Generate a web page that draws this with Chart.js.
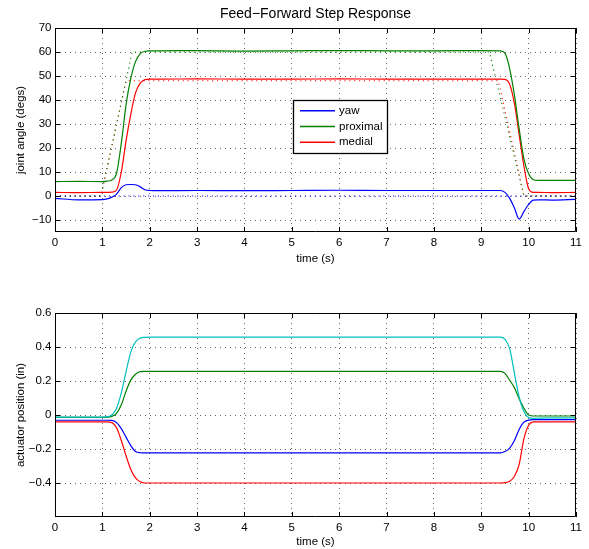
<!DOCTYPE html>
<html><head><meta charset="utf-8">
<script src="https://cdn.jsdelivr.net/npm/chart.js@4.4.0/dist/chart.umd.min.js"></script>
<style>
html,body{margin:0;padding:0;background:#fff;}
#wrap{position:relative;width:589px;height:549px;overflow:hidden;}
#c1{position:absolute;left:0;top:0;}
#c2{position:absolute;left:0;top:275px;}
</style></head><body>
<div id="wrap"><canvas id="c1" width="589" height="275"></canvas><canvas id="c2" width="589" height="274"></canvas></div>
<script>
// ---------- data: top chart (joint angle, degs) ----------
const timeTop = [0, 0.5, 1.0, 1.1, 1.2, 1.3, 1.4, 1.5, 1.6, 1.7, 1.8, 1.9, 2.0, 2.2, 3, 4, 5, 6, 7, 8, 9, 9.4, 9.5, 9.6, 9.7, 9.8, 9.9, 10.0, 10.1, 10.2, 10.5, 11];
const yawAngle = [-1.0, -1.6, -1.5, -1.2, -0.5, 0.8, 3.5, 4.7, 4.8, 4.7, 3.8, 2.6, 2.3, 2.2, 2.3, 2.2, 2.3, 2.4, 2.3, 2.3, 2.3, 2.3, 1.5, -1.0, -5.0, -9.6, -6.5, -3.5, -1.7, -1.6, -1.7, -1.4];
const proximalAngle = [6.0, 6.1, 6.0, 6.2, 6.7, 9.5, 22, 38, 49, 56, 59.3, 60.3, 60.5, 60.5, 60.6, 60.4, 60.5, 60.6, 60.5, 60.5, 60.6, 60.5, 59.5, 53, 42, 28, 15.5, 9.3, 6.8, 6.5, 6.5, 6.5];
const medialAngle = [1.5, 1.4, 1.5, 1.5, 1.6, 2.5, 10, 23, 34, 43, 47, 48.5, 48.7, 48.7, 48.8, 48.7, 48.7, 48.8, 48.7, 48.7, 48.7, 48.7, 48.6, 46.5, 38.5, 25.5, 12.5, 3.0, 1.5, 1.5, 1.4, 1.5];
// reference (commanded) trajectories, dotted
const yawRefTime = [0, 11];
const yawRef = [0, 0];
const proximalRefTime = [0, 0.97, 1.63, 9.17, 9.9, 11];
const proximalRef = [0, 0, 60, 60, 0, 0];
const medialRefTime = [0, 0.97, 1.5, 9.36, 9.9, 11];
const medialRef = [0, 0, 48, 48, 0, 0];
const seriesLabels = ['yaw', 'proximal', 'medial'];

// ---------- data: bottom chart (actuator position, in) ----------
const timeBottom = [0, 0.5, 1.0, 1.1, 1.2, 1.3, 1.4, 1.5, 1.6, 1.7, 1.8, 1.9, 2.0, 3, 5, 7, 9, 9.4, 9.5, 9.6, 9.7, 9.8, 9.9, 10.0, 10.1, 10.2, 10.5, 11];
const actCyan = [-0.012, -0.012, -0.012, -0.011, 0.0, 0.04, 0.13, 0.255, 0.37, 0.43, 0.452, 0.457, 0.458, 0.458, 0.458, 0.458, 0.458, 0.458, 0.445, 0.39, 0.245, 0.105, 0.02, -0.015, -0.02, -0.018, -0.017, -0.017];
const actGreen = [-0.014, -0.014, -0.014, -0.013, -0.008, 0.01, 0.06, 0.14, 0.205, 0.24, 0.255, 0.257, 0.257, 0.257, 0.257, 0.257, 0.257, 0.257, 0.245, 0.205, 0.16, 0.095, 0.04, 0.0, -0.006, -0.006, -0.006, -0.006];
const actBlue = [-0.031, -0.031, -0.031, -0.031, -0.032, -0.045, -0.08, -0.13, -0.18, -0.215, -0.222, -0.223, -0.223, -0.223, -0.223, -0.223, -0.223, -0.223, -0.215, -0.195, -0.15, -0.085, -0.042, -0.03, -0.027, -0.027, -0.027, -0.027];
const actRed = [-0.041, -0.041, -0.041, -0.041, -0.045, -0.075, -0.15, -0.24, -0.32, -0.37, -0.393, -0.4, -0.4, -0.4, -0.4, -0.4, -0.4, -0.4, -0.398, -0.39, -0.36, -0.29, -0.14, -0.06, -0.041, -0.04, -0.04, -0.04];

// ---------- tick labels ----------
const timeTicks = [0,1,2,3,4,5,6,7,8,9,10,11];
const angleTicks = [-10, 0, 10, 20, 30, 40, 50, 60, 70];
const positionTicks = [-0.4, -0.2, 0, 0.2, 0.4, 0.6];

const BLUE = '#0000ff', GREEN = '#008000', RED = '#ff0000', CYAN = '#00bfbf';
const FONT = '"Liberation Sans", Arial, Helvetica, sans-serif';

function pts(xs, ys){ return xs.map((x,i)=>({x:x, y:ys[i]})); }
function fmt(v){ const r = Math.round(v*10)/10; if (r === 0) return '0'; return r < 0 ? '\u2212' + String(Math.abs(r)) : String(r); }

function solid(label, xs, ys, color, legend){
  return {label, data: pts(xs, ys), borderColor: color, backgroundColor: color, borderWidth: 1.2,
    pointRadius: 0, cubicInterpolationMode: 'monotone', fill: false, inLegend: !!legend, legendColor: color};
}
function dotted(label, xs, ys, color){
  return {label, data: pts(xs, ys), borderColor: color, backgroundColor: color, borderWidth: 1.1,
    borderDash: [1.1, 3.8], pointRadius: 0, tension: 0, fill: false, inLegend: false};
}

const framePlugin = {
  id: 'frame',
  afterDraw(chart, args, opts){
    const {ctx, chartArea: a} = chart;
    const xs = chart.scales.x, ys = chart.scales.y;
    ctx.save();
    ctx.setLineDash([]);
    ctx.strokeStyle = '#000'; ctx.lineWidth = 1;
    ctx.beginPath();
    ctx.rect(Math.round(a.left)+0.5, Math.round(a.top)+0.5, Math.round(a.right)-Math.round(a.left)-1, Math.round(a.bottom)-Math.round(a.top)-1);
    ctx.stroke();
    const L = 5;
    ctx.beginPath();
    opts.xTicks.forEach(v => {
      const p = Math.round(xs.getPixelForValue(v)) + 0.5;
      ctx.moveTo(p, a.bottom); ctx.lineTo(p, a.bottom - L);
      ctx.moveTo(p, a.top); ctx.lineTo(p, a.top + L);
    });
    opts.yTicks.forEach(v => {
      const p = Math.round(ys.getPixelForValue(v)) + 0.5;
      ctx.moveTo(a.left, p); ctx.lineTo(a.left + L, p);
      ctx.moveTo(a.right, p); ctx.lineTo(a.right - L, p);
    });
    ctx.stroke();
    ctx.restore();
  }
};

const boxLegendPlugin = {
  id: 'boxLegend',
  afterDraw(chart, args, opts){
    if (!opts || !opts.display) return;
    const ctx = chart.ctx;
    const items = chart.data.datasets.filter(d => d.inLegend);
    ctx.save();
    ctx.setLineDash([]);
    ctx.fillStyle = '#fff';
    ctx.fillRect(opts.left, opts.top, opts.width, opts.height);
    ctx.strokeStyle = '#000'; ctx.lineWidth = 1.3;
    ctx.strokeRect(opts.left + 0.5, opts.top + 0.5, opts.width, opts.height);
    ctx.font = '11.5px ' + FONT;
    ctx.textBaseline = 'middle'; ctx.textAlign = 'left';
    items.forEach((d, i) => {
      const y = opts.top + opts.firstRow + i * opts.rowGap;
      ctx.strokeStyle = d.legendColor; ctx.lineWidth = 1.5;
      ctx.beginPath(); ctx.moveTo(opts.left + 7, y); ctx.lineTo(opts.left + 42, y); ctx.stroke();
      ctx.fillStyle = '#000';
      ctx.fillText(d.label, opts.left + 46, y);
    });
    ctx.restore();
  }
};

function makeOptions(cfg){
  return {
    responsive: false, animation: false, devicePixelRatio: 1,
    layout: {padding: {left: 0, right: 13, top: cfg.padTop, bottom: 0}},
    plugins: {
      legend: {display: false}, tooltip: {enabled: false},
      title: cfg.title ? {display: true, text: cfg.title, color: '#000', fullSize: false,
        font: {family: FONT, size: 14, weight: 'normal'}, padding: {top: 5.5, bottom: 5.7}} : {display: false},
      frame: {xTicks: timeTicks, yTicks: cfg.yTicks},
      boxLegend: cfg.legend || {display: false}
    },
    scales: {
      x: {type: 'linear', min: 0, max: 11,
        ticks: {stepSize: 1, color: '#000', padding: 3.5, font: {family: FONT, size: 11.5}, maxRotation: 0,
          callback: v => fmt(v)},
        grid: {color: '#666', lineWidth: 1, drawTicks: false},
        border: {display: false, dash: [1, 4]},
        title: {display: true, text: 'time (s)', color: '#000', font: {family: FONT, size: 11.5}, padding: {top: 2, bottom: cfg.xTitlePad}},
        afterFit: s => { s.height = cfg.xHeight; }
      },
      y: {type: 'linear', min: cfg.yMin, max: cfg.yMax,
        ticks: {stepSize: cfg.yStep, includeBounds: false, color: '#000', padding: 3.5, font: {family: FONT, size: 11.5},
          callback: v => (v <= cfg.yMin + 1e-9 ? null : fmt(v))},
        grid: {color: '#666', lineWidth: 1, drawTicks: false},
        border: {display: false, dash: [1, 4]},
        title: {display: true, text: cfg.yTitle, color: '#000', font: {family: FONT, size: 11.5}, padding: {top: 14, bottom: 0}},
        afterFit: s => { s.width = 55; }
      }
    }
  };
}

new Chart(document.getElementById('c1'), {
  type: 'line',
  data: {datasets: [
    solid(seriesLabels[0], timeTop, yawAngle, BLUE, true),
    solid(seriesLabels[1], timeTop, proximalAngle, GREEN, true),
    solid(seriesLabels[2], timeTop, medialAngle, RED, true),
    dotted('yaw ref', yawRefTime, yawRef, BLUE),
    dotted('proximal ref', proximalRefTime, proximalRef, GREEN),
    dotted('medial ref', medialRefTime, medialRef, RED)
  ]},
  options: makeOptions({title: 'Feed\u2212Forward Step Response', padTop: 0, yMin: -15, yMax: 70, yStep: 10,
    yTicks: angleTicks, yTitle: 'joint angle (degs)', xHeight: 43, xTitlePad: 9.5,
    legend: {display: true, left: 293, top: 100, width: 94, height: 53, firstRow: 10.7, rowGap: 15.8}}),
  plugins: [framePlugin, boxLegendPlugin]
});

new Chart(document.getElementById('c2'), {
  type: 'line',
  data: {datasets: [
    solid('actuator 1', timeBottom, actCyan, CYAN, false),
    solid('actuator 2', timeBottom, actGreen, GREEN, false),
    solid('actuator 3', timeBottom, actBlue, BLUE, false),
    solid('actuator 4', timeBottom, actRed, RED, false)
  ]},
  options: makeOptions({title: null, padTop: 38, yMin: -0.6, yMax: 0.6, yStep: 0.2,
    yTicks: positionTicks, yTitle: 'actuator position (in)', xHeight: 32, xTitlePad: 0}),
  plugins: [framePlugin, boxLegendPlugin]
});
</script>
</body></html>
